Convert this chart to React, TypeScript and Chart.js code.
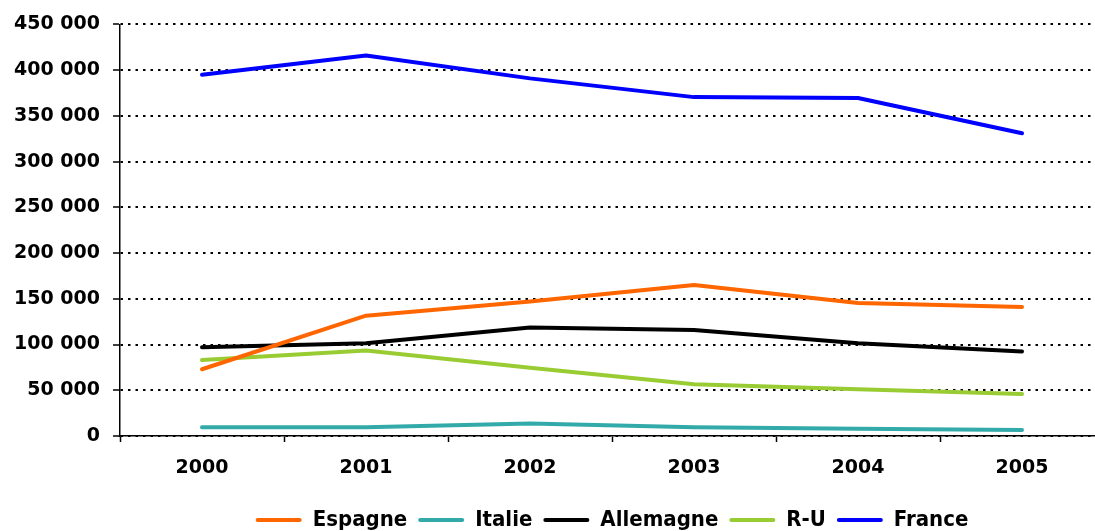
import React, { useEffect, useRef } from "react";
import { Chart, registerables } from "chart.js";

Chart.register(...registerables);

// Years on the category axis
const years = ["2000", "2001", "2002", "2003", "2004", "2005"];

// Series values per year
const espagne = [73000, 131500, 147000, 165000, 145500, 141000];
const italie = [9500, 9500, 13800, 9500, 8000, 6500];
const allemagne = [97000, 101500, 118500, 116000, 101500, 92500];
const ru = [83000, 93500, 74500, 56500, 51000, 46000];
const france = [395000, 416000, 391000, 370500, 369500, 331000];

// Value axis range
const yMin = 0;
const yMax = 450000;
const yStep = 50000;

const fmt = (v: number) =>
  String(v).replace(/\B(?=(\d{3})+(?!\d))/g, " ");

const line = (label: string, data: number[], color: string) => ({
  label,
  data,
  borderColor: color,
  backgroundColor: color,
  borderWidth: 4,
  pointRadius: 0,
  pointHoverRadius: 0,
  tension: 0,
  borderCapStyle: "round" as const,
  borderJoinStyle: "round" as const,
  fill: false,
});

export default function App() {
  const ref = useRef<HTMLCanvasElement>(null);

  useEffect(() => {
    if (!ref.current) return;
    const chart = new Chart(ref.current, {
      type: "line",
      data: {
        labels: years,
        datasets: [
          line("Espagne", espagne, "#FF6600"),
          line("Italie", italie, "#33AAAA"),
          line("Allemagne", allemagne, "#000000"),
          line("R-U", ru, "#99CC33"),
          line("France", france, "#0000FF"),
        ],
      },
      options: {
        animation: false,
        responsive: false,
        devicePixelRatio: 1,
        layout: { padding: { left: 0, top: 22, right: 6, bottom: 0 } },
        plugins: {
          title: { display: false },
          tooltip: { enabled: false },
          legend: {
            position: "bottom",
            fullSize: false,
            labels: {
              boxWidth: 46,
              boxHeight: 4,
              padding: 11,
              color: "#000000",
              font: {
                family: '"DejaVu Sans Condensed", sans-serif',
                weight: "bold",
                size: 22,
              },
              generateLabels(chart: any) {
                return chart.data.datasets.map((ds: any, i: number) => ({
                  text: ds.label,
                  fillStyle: ds.borderColor,
                  strokeStyle: ds.borderColor,
                  lineWidth: 0,
                  borderRadius: 2,
                  fontColor: "#000000",
                  hidden: false,
                  datasetIndex: i,
                }));
              },
            },
          },
        },
        scales: {
          x: {
            type: "category",
            offset: true,
            afterFit(scale: any) {
              scale.height = 62;
            },
            grid: {
              offset: true,
              drawOnChartArea: false,
              drawTicks: true,
              tickLength: 6,
              tickColor: "#000000",
              tickWidth: 1.5,
            },
            border: { display: true, color: "#000000", width: 1.5 },
            ticks: {
              color: "#000000",
              padding: 15,
              maxRotation: 0,
              font: { family: '"DejaVu Sans", sans-serif', weight: "bold", size: 19 },
            },
          },
          y: {
            min: yMin,
            max: yMax,
            afterFit(scale: any) {
              scale.width = 120;
            },
            grid: {
              color: "#000000",
              lineWidth: 2,
              drawTicks: true,
              tickLength: 7,
              tickColor: "#000000",
              tickWidth: 1.5,
              tickBorderDash: [],
            },
            border: { display: true, color: "#000000", width: 1.5, dash: [2.5, 5] },
            ticks: {
              stepSize: yStep,
              color: "#000000",
              padding: 13,
              font: { family: '"DejaVu Sans", sans-serif', weight: "bold", size: 19 },
              callback: (v: any) => fmt(Number(v)),
            },
          },
        },
      },
    });
    return () => chart.destroy();
  }, []);

  return (
    <div
      style={{
        position: "fixed",
        left: 0,
        top: 0,
        width: 1095,
        height: 531,
        overflow: "hidden",
        background: "#ffffff",
      }}
    >
      <canvas ref={ref} width={1110} height={541} style={{ display: "block" }} />
    </div>
  );
}
